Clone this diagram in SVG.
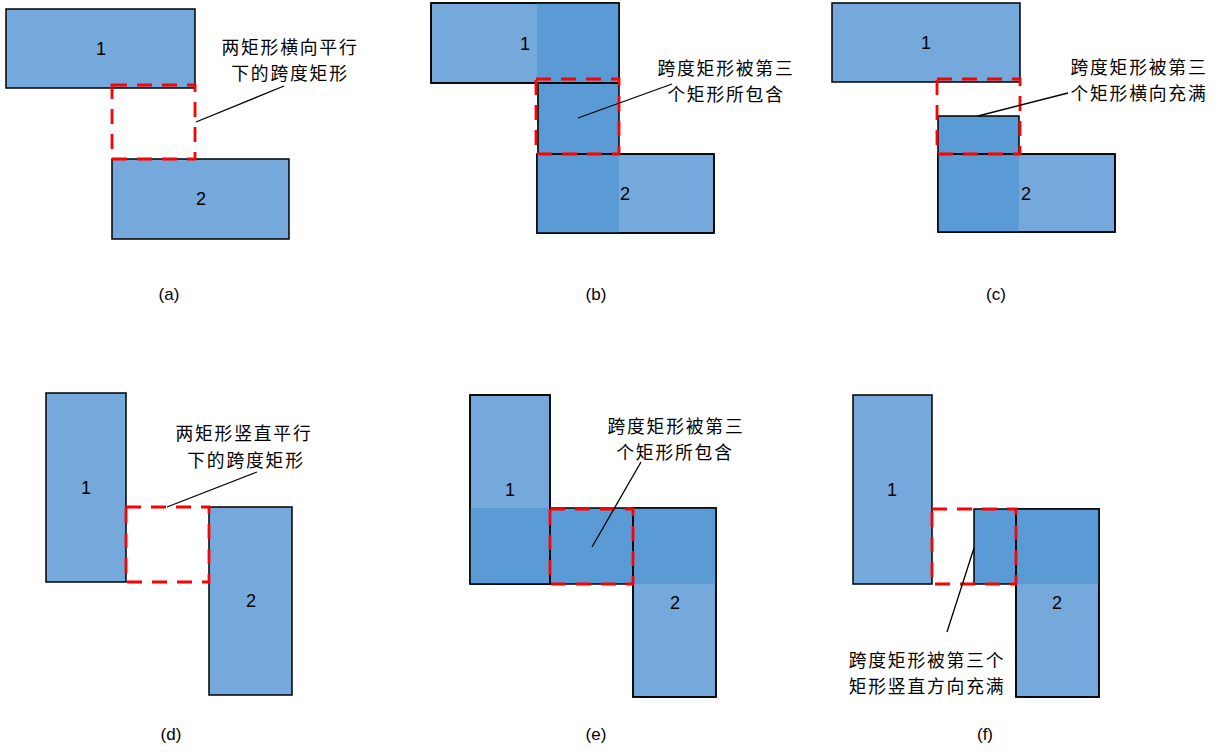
<svg xmlns="http://www.w3.org/2000/svg" width="1219" height="756" viewBox="0 0 1219 756">
<style>
.lt{fill:#75A9DB;stroke:#000;stroke-width:1.5}
.dk{fill:#5B9BD5;stroke:none}
.ol{fill:none;stroke:#000;stroke-width:1.5}
.ds{fill:none;stroke:#FF0000;stroke-width:2.8;stroke-dasharray:15 10}
.ld{stroke:#000;stroke-width:1.3;fill:none}
.num{font-family:"Liberation Sans",Arial,sans-serif;font-size:18px;fill:#000;text-anchor:middle}
.cap{font-family:"Liberation Sans",Arial,sans-serif;font-size:17px;fill:#000;text-anchor:middle}
.cjk{font-family:"Noto Sans CJK SC","Liberation Sans",sans-serif;font-size:17.8px;letter-spacing:1.8px;fill:#000;text-anchor:middle}
</style>
<rect width="1219" height="756" fill="#fff"/>

<!-- Panel a -->
<g id="panel-a">
  <g id="a-rect1"><rect class="lt" x="6" y="9" width="189" height="79"/><text class="num" x="101" y="55">1</text></g>
  <g id="a-rect2"><rect class="lt" x="112" y="159" width="177" height="80"/><text class="num" x="201" y="205">2</text></g>
  <g id="a-span"><rect class="ds" x="112" y="85" width="83" height="74"/></g>
  <g id="a-label"><text class="cjk" x="290" y="54">两矩形横向平行</text><text class="cjk" x="290" y="80">下的跨度矩形</text></g>
  <text class="cap" x="169" y="300">(a)</text>
</g>

<!-- Panel b -->
<g id="panel-b">
  <g id="b-rect1"><rect class="lt" x="431" y="3" width="188" height="80"/><text class="num" x="525" y="50">1</text></g>
  <g id="b-rect2"><rect class="lt" x="537" y="154" width="177" height="79"/></g>
  <g id="b-rect3"><rect class="dk" x="537" y="3" width="82" height="230"/><rect class="ol" x="538" y="83" width="81" height="71"/></g>
  <rect class="ol" x="431" y="3" width="188" height="80"/>
  <rect class="ol" x="537" y="154" width="177" height="79"/>
  <text class="num" x="625" y="200">2</text>
  <g id="b-span"><rect class="ds" x="536" y="79" width="83" height="75"/></g>
  <g id="b-label"><text class="cjk" x="726" y="75">跨度矩形被第三</text><text class="cjk" x="726" y="101">个矩形所包含</text></g>
  <text class="cap" x="596" y="300">(b)</text>
</g>

<!-- Panel c -->
<g id="panel-c">
  <g id="c-rect1"><rect class="lt" x="832" y="3" width="188" height="79"/><text class="num" x="926" y="49">1</text></g>
  <g id="c-rect2"><rect class="lt" x="938" y="154" width="177" height="78"/></g>
  <g id="c-rect3"><rect class="dk" x="938" y="116" width="81" height="116"/><rect class="ol" x="938" y="116" width="81" height="38"/></g>
  <rect class="ol" x="938" y="154" width="177" height="78"/>
  <text class="num" x="1026" y="200">2</text>
  <g id="c-span"><rect class="ds" x="937" y="79" width="83" height="75"/></g>
  <g id="c-label"><text class="cjk" x="1139" y="74">跨度矩形被第三</text><text class="cjk" x="1139" y="100">个矩形横向充满</text></g>
  <text class="cap" x="996" y="300">(c)</text>
</g>

<!-- Panel d -->
<g id="panel-d">
  <g id="d-rect1"><rect class="lt" x="46" y="393" width="80" height="189"/><text class="num" x="86" y="494">1</text></g>
  <g id="d-rect2"><rect class="lt" x="209" y="507" width="83" height="188"/><text class="num" x="251" y="607">2</text></g>
  <g id="d-span"><rect class="ds" x="126" y="507" width="83" height="75"/></g>
  <g id="d-label"><text class="cjk" x="244" y="440">两矩形竖直平行</text><text class="cjk" x="246" y="467">下的跨度矩形</text></g>
  <text class="cap" x="171" y="740">(d)</text>
</g>

<!-- Panel e -->
<g id="panel-e">
  <g id="e-rect1"><rect class="lt" x="470" y="395" width="80" height="189"/></g>
  <g id="e-rect2"><rect class="lt" x="633" y="508" width="83" height="189"/></g>
  <g id="e-rect3"><rect class="dk" x="470" y="508" width="246" height="76"/><rect class="ol" x="550" y="508" width="83" height="76"/></g>
  <rect class="ol" x="470" y="395" width="80" height="189"/>
  <rect class="ol" x="633" y="508" width="83" height="189"/>
  <text class="num" x="510" y="496">1</text>
  <text class="num" x="675" y="609">2</text>
  <g id="e-span"><rect class="ds" x="550" y="509" width="83" height="75"/></g>
  <g id="e-label"><text class="cjk" x="676" y="433">跨度矩形被第三</text><text class="cjk" x="675" y="459">个矩形所包含</text></g>
  <text class="cap" x="596" y="740">(e)</text>
</g>

<!-- Panel f -->
<g id="panel-f">
  <g id="f-rect1"><rect class="lt" x="853" y="395" width="79" height="189"/><text class="num" x="892" y="496">1</text></g>
  <g id="f-rect2"><rect class="lt" x="1016" y="509" width="83" height="188"/></g>
  <g id="f-rect3"><rect class="dk" x="974" y="509" width="125" height="75"/><rect class="ol" x="974" y="509" width="42" height="75"/></g>
  <rect class="ol" x="1016" y="509" width="83" height="188"/>
  <text class="num" x="1057" y="609">2</text>
  <g id="f-span"><rect class="ds" x="932" y="509" width="84" height="75"/></g>
  <g id="f-label"><text class="cjk" x="927" y="667">跨度矩形被第三个</text><text class="cjk" x="927" y="693">矩形竖直方向充满</text></g>
  <text class="cap" x="985" y="740">(f)</text>
</g>

<!-- Connectors (leader lines) -->
<g id="connectors">
  <line class="ld" x1="196" y1="122" x2="284" y2="86"/>
  <line class="ld" x1="578" y1="118" x2="672" y2="84"/>
  <line class="ld" x1="978" y1="116" x2="1068" y2="93"/>
  <line class="ld" x1="167" y1="507" x2="257" y2="472"/>
  <line class="ld" x1="592" y1="547" x2="641" y2="462"/>
  <line class="ld" x1="974" y1="548" x2="947" y2="632"/>
</g>
</svg>
